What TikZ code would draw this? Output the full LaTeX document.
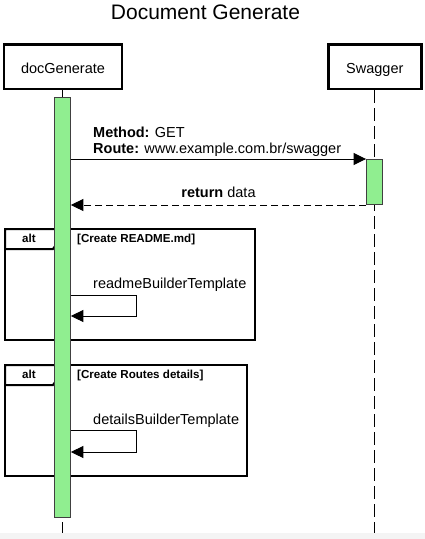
\documentclass[tikz,border=0pt]{standalone}
\usepackage{fontspec}
\setmainfont{Liberation Sans}
\usetikzlibrary{arrows.meta}
\definecolor{actgreen}{HTML}{90EE90}
\definecolor{actborder}{HTML}{404040}
\definecolor{bandgray}{HTML}{F4F4F4}
\begin{document}
\begin{tikzpicture}[x=1pt,y=-1pt,
  partbox/.style={draw, line width=2.5pt, fill=white, inner sep=0pt, minimum height=44.5pt},
  lifeline/.style={draw, line width=1pt, dash pattern=on 13pt off 5pt},
  actbar/.style={draw=actborder, fill=actgreen, line width=1pt, inner sep=0pt, minimum width=15.5pt},
  msg/.style={draw, line width=1pt, -{Triangle[length=12.5pt,width=12pt]}},
  retmsg/.style={msg, dash pattern=on 7pt off 4pt},
  frameline/.style={draw, line width=2pt},
  tabshape/.style={draw, line width=2pt, fill=white},
  txt/.style={inner sep=0pt, font=\fontsize{14.5}{16}\selectfont},
  btxt/.style={inner sep=0pt, font=\fontsize{14.5}{16}\selectfont\bfseries},
  smallb/.style={inner sep=0pt, font=\fontsize{11.6}{13}\selectfont\bfseries}
]
\useasboundingbox (0,0) rectangle (425,539);
\fill[bandgray] (0,533) rectangle (425,539);

% title
\node[inner sep=0pt, anchor=base, font=\fontsize{21}{24}\selectfont] (title) at (205.5,19) {Document Generate};

% participants
\node[partbox, minimum width=118pt] (docG) at (63,66.5) {};
\node[txt, anchor=base] (docGt) at (63,73) {docGenerate};
\node[partbox, minimum width=93pt] (swag) at (374.8,66.5) {};
\node[txt, anchor=base] (swagt) at (374.8,73) {Swagger};

% lifelines
\coordinate (docEnd) at (62.5,533);
\coordinate (swagEnd) at (374.5,533);
\draw[lifeline] (docG.south -| docEnd) -- (docEnd);
\draw[lifeline] (swag.south -| swagEnd) -- (swagEnd);

% frames
\draw[frameline] (5,229) rectangle (255,340);
\draw[tabshape] (5,229) -- (62,229) -- (62,236) -- (53,249) -- (5,249) -- cycle;
\node[smallb, anchor=base] (alt1) at (29,242) {alt};
\node[smallb, anchor=base west] (cond1) at (77,242) {[Create README.md]};

\draw[frameline] (5,365) rectangle (247,476);
\draw[tabshape] (5,365) -- (62,365) -- (62,372) -- (53,385) -- (5,385) -- cycle;
\node[smallb, anchor=base] (alt2) at (29,378) {alt};
\node[smallb, anchor=base west] (cond2) at (77,378) {[Create Routes details]};

% activation bars
\node[actbar, minimum height=420pt, anchor=north] (actD) at (62.6,97) {};
\node[actbar, minimum height=45pt, anchor=north] (actS) at (374.3,159) {};

% call to Swagger
\draw[msg] (actD.east |- actS.north) -- (actS.north west);
\node[btxt, anchor=base west] (m1a) at (93,137) {Method: \mdseries GET};
\node[btxt, anchor=base west] (m1b) at (93,153) {Route: \mdseries www.example.com.br/swagger};

% return
\draw[retmsg] (actS.south west) -- (actD.east |- actS.south);
\node[btxt, anchor=base] (r1) at (218.5,197) {return \mdseries data};

% self messages
\coordinate (s1a) at (136,295);
\coordinate (s1b) at (136,316);
\draw[msg] (actD.east |- s1a) -- (s1a) -- (s1b) -- (actD.east |- s1b);
\node[txt, anchor=base west] (l1) at (93,288) {readmeBuilderTemplate};

\coordinate (s2a) at (136,430);
\coordinate (s2b) at (136,452);
\draw[msg] (actD.east |- s2a) -- (s2a) -- (s2b) -- (actD.east |- s2b);
\node[txt, anchor=base west] (l2) at (93,424) {detailsBuilderTemplate};
\end{tikzpicture}
\end{document}
